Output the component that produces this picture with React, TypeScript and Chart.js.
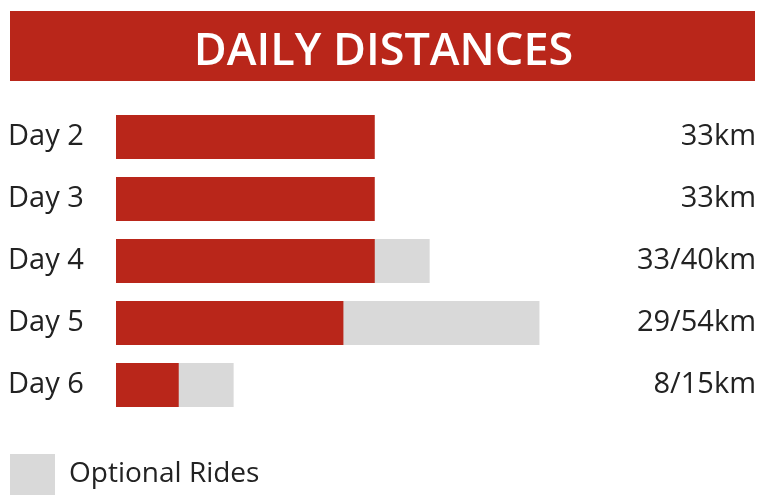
import React, { useEffect, useRef } from "react";
import { Chart, registerables } from "chart.js";

Chart.register(...registerables);

const TITLE = "DAILY DISTANCES";
const days = ["Day 2", "Day 3", "Day 4", "Day 5", "Day 6"];
const mainRides = [33, 33, 33, 29, 8];
const optionalTotals: (number | null)[] = [null, null, 40, 54, 15];
const distanceLabels = mainRides.map((v, i) =>
  optionalTotals[i] != null ? `${v}/${optionalTotals[i]}km` : `${v}km`
);

const RED = "#b9261a";
const GREY = "#d9d9d9";
const TEXT = "#222222";
const FONT = "'Open Sans', sans-serif";

const bannerPlugin = {
  id: "banner",
  beforeDraw(chart: any) {
    const { ctx, width } = chart;
    ctx.save();
    ctx.fillStyle = RED;
    ctx.fillRect(10, 11, width - 14, 70);
    ctx.restore();
  },
};

const rightLabelsPlugin = {
  id: "rightLabels",
  afterDatasetsDraw(chart: any) {
    const { ctx, width } = chart;
    const yScale = chart.scales.y;
    ctx.save();
    ctx.fillStyle = TEXT;
    ctx.font = `400 29px ${FONT}`;
    ctx.textAlign = "right";
    ctx.textBaseline = "middle";
    distanceLabels.forEach((t, i) => {
      ctx.fillText(t, width - 3, yScale.getPixelForValue(i));
    });
    ctx.restore();
  },
};

export default function App() {
  const ref = useRef<HTMLCanvasElement | null>(null);
  useEffect(() => {
    if (!ref.current) return;
    const chart = new Chart(ref.current, {
      type: "bar",
      data: {
        labels: days,
        datasets: [
          {
            label: "Main Ride",
            data: mainRides,
            backgroundColor: RED,
            grouped: false,
            barPercentage: 0.71,
            categoryPercentage: 1,
          } as any,
          {
            label: "Optional Rides",
            data: optionalTotals,
            backgroundColor: GREY,
            grouped: false,
            barPercentage: 0.71,
            categoryPercentage: 1,
          } as any,
        ],
      },
      options: {
        indexAxis: "y",
        animation: false,
        responsive: false,
        maintainAspectRatio: false,
        layout: { padding: { left: 8, right: 0, top: 0, bottom: -10 } },
        scales: {
          x: {
            min: 0,
            max: 82,
            display: true,
            grid: { display: false },
            border: { display: false },
            ticks: { display: false },
            afterFit: (s: any) => {
              s.height = 36;
            },
          },
          y: {
            grid: { display: false },
            border: { display: false },
            ticks: {
              crossAlign: "far",
              color: TEXT,
              font: { family: FONT, size: 29 },
            },
            afterFit: (s: any) => {
              s.width = 108;
            },
          },
        },
        plugins: {
          title: {
            display: true,
            text: TITLE,
            color: "#ffffff",
            font: { family: FONT, size: 45, weight: "600" as any, lineHeight: 1.2 },
            padding: { top: 25, bottom: 27 },
          },
          legend: {
            position: "bottom",
            align: "start",
            labels: {
              filter: (item: any) => item.text === "Optional Rides",
              boxWidth: 45,
              boxHeight: 41,
              padding: 2,
              color: TEXT,
              font: { family: FONT, size: 28 },
            },
          },
          tooltip: { enabled: false },
        },
      },
      plugins: [bannerPlugin, rightLabelsPlugin],
    });
    return () => chart.destroy();
  }, []);
  return (
    <div style={{ position: "absolute", left: 0, top: 0, width: 759, height: 495, background: "#fff" }}>
      <canvas ref={ref} width={759} height={495} style={{ display: "block" }} />
    </div>
  );
}
